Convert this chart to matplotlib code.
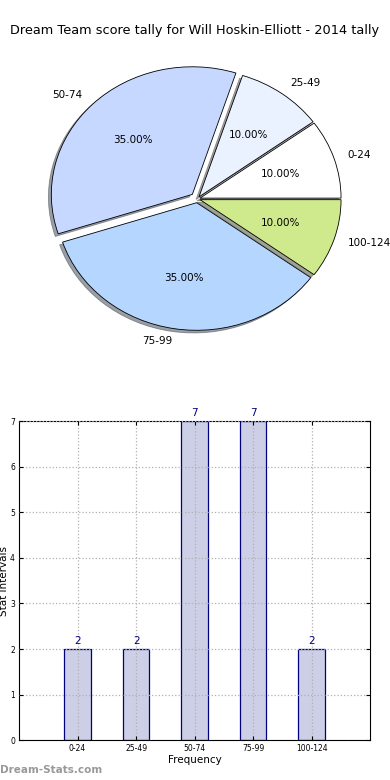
import matplotlib
matplotlib.use("Agg")
import matplotlib.pyplot as plt

# Datos
labels = ["0-24", "25-49", "50-74", "75-99", "100-124"]
counts = [2, 2, 7, 7, 2]
pie_colors = ["#ffffff", "#eaf1ff", "#c6d8ff", "#b4d6ff", "#cfea8c"]
explode = [0.02, 0.02, 0.05, 0.03, 0.02]

fig = plt.figure(figsize=(3.9, 7.8), dpi=100, facecolor="white")
fig.text(0.5, 0.961, "Dream Team score tally for Will Hoskin-Elliott - 2014 tally",
         ha="center", va="center", fontsize=9.3, color="black")

# Tarta (elíptica, como el original)
ax1 = fig.add_axes([0.054, 0.5405, 0.904, 0.409])
wedges, texts, autotexts = ax1.pie(
    counts, labels=labels, colors=pie_colors, explode=explode,
    autopct="%1.2f%%", shadow={"ox": -0.015, "oy": -0.015}, startangle=0,
    wedgeprops=dict(edgecolor="black", linewidth=0.6),
    textprops=dict(fontsize=7.5))
ax1.set_aspect("auto")
ax1.set_xlim(-1.25, 1.25)
ax1.set_ylim(-1.25, 1.25)

# Barras
ax2 = fig.add_axes([0.049, 0.051, 0.9, 0.409])
x = list(range(len(labels)))
bars = ax2.bar(x, counts, width=0.45, color="#cdcfe6", edgecolor="navy",
               linewidth=0.9, zorder=1)
for xi, c in zip(x, counts):
    ax2.text(xi, c + 0.07, str(c), ha="center", va="bottom", fontsize=7.5,
             color="navy")
ax2.set_xlim(-1, 5)
ax2.set_ylim(0, 7)
ax2.set_xticks(x)
ax2.set_xticklabels(labels)
ax2.set_yticks(range(8))
ax2.tick_params(labelsize=5.5, direction="in", top=True, right=True,
                length=3, pad=3)
ax2.grid(True, linestyle=":", color="#b0b0b0", linewidth=0.9, zorder=3)
ax2.set_axisbelow(False)
ax2.set_xlabel("Frequency", fontsize=7.5, labelpad=1)
ax2.set_ylabel("Stat Intervals", fontsize=7.5, labelpad=2)
ax2.yaxis.set_label_coords(-0.03, 0.5)

fig.text(0.0, 0.013, "Dream-Stats.com", fontsize=7.5, color="#999999",
         fontweight="bold", ha="left", va="center")

fig.savefig("out.png", dpi=100, facecolor="white")
